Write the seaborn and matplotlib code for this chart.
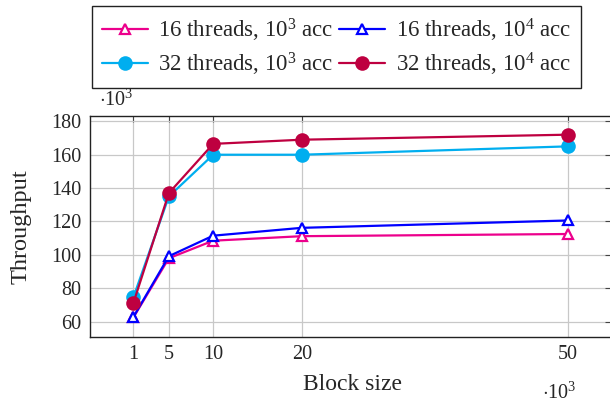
import matplotlib
matplotlib.use("Agg")
import matplotlib.pyplot as plt
import seaborn as sns
import pandas as pd

block_size = [1, 5, 10, 20, 50]
t16_1e3 = [62.5, 98.0, 108.5, 111.2, 112.5]
t16_1e4 = [62.8, 99.2, 111.5, 116.2, 120.6]
t32_1e3 = [74.6, 135.0, 160.0, 160.0, 165.0]
t32_1e4 = [71.2, 137.0, 166.5, 169.0, 172.0]

labels = [r"16 threads, $10^3$ acc", r"32 threads, $10^3$ acc",
          r"16 threads, $10^4$ acc", r"32 threads, $10^4$ acc"]
series = [t16_1e3, t32_1e3, t16_1e4, t32_1e4]
colors = ["#EC008C", "#00AEEF", "#0000FF", "#BE0040"]
markers = ["^", "o", "^", "o"]

sns.set_theme(style="white")
plt.rcParams["font.family"] = ["Liberation Serif", "DejaVu Serif"]
plt.rcParams["mathtext.fontset"] = "custom"
plt.rcParams["mathtext.rm"] = "Liberation Serif"
plt.rcParams["mathtext.it"] = "Liberation Serif:italic"

fig = plt.figure(figsize=(6.10, 4.03), dpi=100)
ax = fig.add_axes([90 / 610, 1 - 337 / 403, 521 / 610, 221 / 403])

for lab, vals, col, mk in zip(labels, series, colors, markers):
    df = pd.DataFrame({"x": block_size, "y": vals})
    if mk == "^":
        sns.lineplot(data=df, x="x", y="y", ax=ax, color=col, marker=mk,
                     markersize=7.5, markerfacecolor="white", markeredgecolor=col,
                     markeredgewidth=1.6, linewidth=1.6, label=lab)
    else:
        sns.lineplot(data=df, x="x", y="y", ax=ax, color=col, marker=mk,
                     markersize=10.5, markerfacecolor=col, markeredgecolor=col,
                     markeredgewidth=0, linewidth=1.6, label=lab)

ax.set_xlim(-3.9, 54.9)
ax.set_ylim(50.8, 183.2)
ax.set_xticks(block_size)
ax.set_yticks([60, 80, 100, 120, 140, 160, 180])
ax.grid(True, color="#c8c8c8", linewidth=0.9)
ax.tick_params(direction="in", top=True, right=True, length=4, width=0.8,
               color="#444444", labelsize=14.5, pad=6)
for s in ax.spines.values():
    s.set_color("#222222")
    s.set_linewidth(1.0)
ax.set_xlabel("Block size", fontsize=17)
ax.set_ylabel("Throughput", fontsize=17.5)
ax.xaxis.set_label_coords(0.5034, -(374 - 337) / 221)
ax.yaxis.set_label_coords((32 - 90) / 521, 0.5)

handles, labs = ax.get_legend_handles_labels()
ax.get_legend().remove()
fig.legend(handles, labs, ncol=2, loc="upper left",
           bbox_to_anchor=(92 / 610, 1 - 6 / 403),
           fontsize=16.5, frameon=True, fancybox=False, edgecolor="#222222",
           framealpha=1, handlelength=2.0, handletextpad=0.45, columnspacing=0.25,
           borderpad=0.45, labelspacing=0.3, borderaxespad=0)

fig.text(99 / 610, 1 - 100 / 403, r"$\cdot10^3$", fontsize=14.5, va="center", ha="left")
fig.text(542 / 610, 1 - 393 / 403, r"$\cdot10^3$", fontsize=14.5, va="center", ha="left")

fig.savefig("out.png", dpi=100)
